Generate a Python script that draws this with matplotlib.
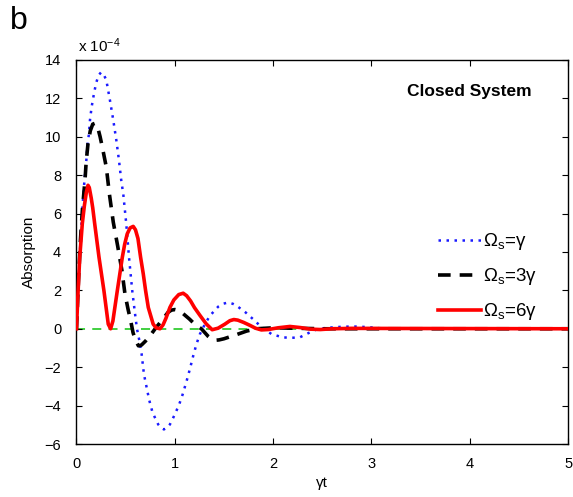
import matplotlib
matplotlib.use("Agg")
import matplotlib.pyplot as plt

plt.rcParams['font.family'] = ['Liberation Sans', 'DejaVu Sans']
plt.rcParams['mathtext.fontset'] = 'custom'
plt.rcParams['mathtext.rm'] = 'Liberation Sans'
plt.rcParams['mathtext.it'] = 'Liberation Sans'
plt.rcParams['mathtext.bf'] = 'Liberation Sans:bold'

# values in units of 1e-4
t_blue = [0, 0.02, 0.04, 0.06, 0.076, 0.086, 0.10, 0.11, 0.127, 0.137, 0.154, 0.178, 0.20, 0.225,
          0.25, 0.275, 0.303, 0.34, 0.374, 0.405, 0.432, 0.455, 0.476, 0.506, 0.534, 0.567, 0.59,
          0.615, 0.64, 0.662, 0.686, 0.74, 0.774, 0.831, 0.86, 0.889, 0.92, 0.95, 1.0, 1.045,
          1.08, 1.12, 1.153, 1.187, 1.22, 1.255, 1.306, 1.357, 1.441, 1.49, 1.543, 1.59, 1.628,
          1.72, 1.763, 1.814, 1.865, 1.984, 2.1, 2.187, 2.27, 2.373, 2.457, 2.644, 2.813, 2.95,
          3.08, 3.3, 5.0]
y_blue = [0, 2.4, 4.5, 6.3, 7.38, 8.08, 8.77, 9.47, 10.17, 10.86, 11.55, 12.25, 12.8, 13.2,
          13.35, 13.25, 12.95, 11.9, 10.86, 9.82, 8.77, 7.73, 7.0, 5.47, 3.72, 1.98, 1.0,
          0.0, -0.63, -1.3, -2.37, -3.72, -4.37, -4.98, -5.15, -5.24, -5.15, -4.98, -4.46, -3.93,
          -3.41, -2.72, -2.1, -1.41, -0.8, -0.28, 0.24, 0.68, 1.15, 1.3, 1.37, 1.3, 1.2,
          0.85, 0.65, 0.42, 0.16, -0.28, -0.45, -0.47, -0.45, -0.19, 0.0, 0.09, 0.12, 0.09,
          0.03, 0.0, 0.0]

t_black = [0, 0.02, 0.04, 0.06, 0.087, 0.098, 0.117, 0.14, 0.165, 0.19, 0.215, 0.24, 0.262, 0.303,
           0.335, 0.374, 0.418, 0.462, 0.493, 0.525, 0.551, 0.575, 0.60, 0.63, 0.66, 0.70, 0.75,
           0.80, 0.87, 0.93, 0.965, 1.0, 1.035, 1.07, 1.15, 1.21, 1.27, 1.34, 1.37, 1.41, 1.45,
           1.5, 1.63, 1.73, 1.83, 2.0, 2.2, 2.5, 5.0]
y_black = [0, 2.5, 4.6, 6.2, 7.78, 8.65, 9.64, 10.3, 10.65, 10.7, 10.5, 10.0, 9.47, 8.42,
           7.0, 5.55, 4.33, 3.03, 1.81, 1.0, 0.42, -0.2, -0.6, -0.89, -0.85, -0.65, -0.35,
           0.0, 0.45, 0.85, 0.97, 1.0, 0.96, 0.85, 0.5, 0.2, 0.0, -0.4, -0.52, -0.6, -0.58,
           -0.52, -0.3, -0.12, 0.0, 0.05, 0.03, 0.0, 0.0]

t_red = [0, 0.012, 0.033, 0.059, 0.08, 0.10, 0.117, 0.13, 0.15, 0.165, 0.185, 0.229, 0.279,
         0.323, 0.347, 0.37, 0.415, 0.466, 0.49, 0.516, 0.545, 0.577, 0.60, 0.625, 0.652, 0.679,
         0.703, 0.73, 0.78, 0.81, 0.849, 0.88, 0.91, 0.95, 0.99, 1.04, 1.085, 1.12, 1.16, 1.2,
         1.255, 1.32, 1.38, 1.44, 1.509, 1.56, 1.60, 1.64, 1.7, 1.763, 1.82, 1.88, 1.95, 2.05,
         2.17, 2.28, 2.38, 2.48, 2.6, 2.8, 5.0]
y_red = [0, 1.5, 3.72, 5.47, 6.4, 7.1, 7.47, 7.35, 6.8, 6.3, 5.47, 3.72, 1.98,
         0.24, 0.0, 0.4, 1.98, 3.72, 4.4, 4.94, 5.25, 5.33, 5.15, 4.7, 3.72, 2.86,
         1.98, 1.11, 0.24, 0.05, 0.0, 0.2, 0.55, 1.11, 1.5, 1.78, 1.85, 1.72, 1.45, 1.1,
         0.7, 0.25, -0.05, 0.03, 0.24, 0.42, 0.48, 0.45, 0.33, 0.18, 0.03, -0.06, -0.04, 0.05,
         0.12, 0.06, -0.02, -0.04, 0.0, 0.02, 0.0]

labels = [r'$\Omega_\mathrm{s}$=γ', r'$\Omega_\mathrm{s}$=3γ', r'$\Omega_\mathrm{s}$=6γ']
x_ticks = [0, 1, 2, 3, 4, 5]
y_ticks = [-6, -4, -2, 0, 2, 4, 6, 8, 10, 12, 14]

fig = plt.figure(figsize=(5.73, 4.97), dpi=100)
ax = fig.add_axes([0.1335, 0.1066, 0.858, 0.773])

ax.axhline(0, color='#33cc33', lw=1.3, ls=(0, (5, 4)), zorder=1)
ax.plot(t_blue, y_blue, color='#1a1aff', lw=1.8, ls=(0, (1, 2.2)), label=labels[0], zorder=2)
ax.plot(t_black, y_black, color='black', lw=2.6, ls=(0, (3.5, 2.5)), label=labels[1], zorder=3)
ax.plot(t_red, y_red, color='#ff0000', lw=2.6, ls='-', label=labels[2], zorder=4)

ax.set_xlim(0, 5)
ax.set_ylim(-6, 14)
ax.set_xticks(x_ticks)
ax.set_yticks(y_ticks)
ax.set_yticklabels([str(v).replace('-', '\u2212') for v in y_ticks])
ax.tick_params(direction='in', top=True, right=True, length=4, labelsize=10.5, width=0.8)
ax.tick_params(axis='x', pad=9)
ax.tick_params(axis='y', pad=11)
for s in ax.spines.values():
    s.set_linewidth(1.0)
ax.set_xlabel('γt', fontsize=11, labelpad=4)
ax.set_ylabel('Absorption', fontsize=11, labelpad=6)

ax.text(0.80, 0.917, 'Closed System', transform=ax.transAxes, ha='center', va='center',
        fontsize=12.5, fontweight='bold')

leg = ax.legend(loc='center left', bbox_to_anchor=(0.70, 0.435), frameon=False,
                fontsize=13.5, handlelength=2.3, handletextpad=0.1, labelspacing=0.75)

fig.text(0.136, 0.889, r'x 10$^{-4}$', fontsize=11, ha='left', va='bottom')
fig.text(0.018, 0.958, 'b', fontsize=23, ha='left', va='center')

fig.savefig('out.png', dpi=100)
